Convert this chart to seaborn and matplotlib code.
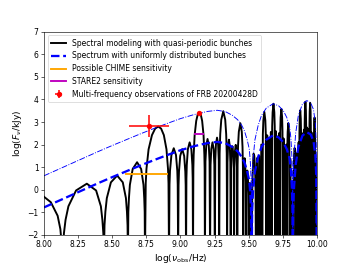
import matplotlib
matplotlib.use("Agg")
import matplotlib.pyplot as plt
import seaborn as sns

# spectral modeling with quasi-periodic bunches (log10 nu, log10 F)
# (-3 marks a spectral zero, which falls below the plotted range)
quasi_logf = [
    8.0, 8.05, 8.1, 8.12, 8.13, 8.1383,
    8.146, 8.158, 8.179, 8.235, 8.314, 8.382, 8.417, 8.428, 8.435, 8.4393,
    8.4436, 8.450, 8.4605, 8.4905, 8.5362, 8.5776, 8.6007, 8.6081, 8.6125, 8.6154,
    8.6183, 8.6226, 8.6296, 8.6502, 8.6824, 8.7123, 8.7294, 8.7349, 8.7382, 8.7404,
    8.7458, 8.7511, 8.7667, 8.7915, 8.8150, 8.8373, 8.8585, 8.8787, 8.8980, 8.9092, 8.9128, 8.9165,
    8.9201, 8.9237, 8.9342, 8.9512, 8.9676, 8.9772, 8.9803, 8.9834,
    8.9865, 8.9896, 8.9986, 9.0134, 9.0276, 9.0360, 9.0387, 9.0414,
    9.0441, 9.0468, 9.0548, 9.0677, 9.0803, 9.0877, 9.0901, 9.0925,
    9.0950, 9.0973, 9.1044, 9.1160, 9.1273, 9.1383, 9.1490, 9.1595, 9.1697, 9.1757, 9.1777, 9.1797,
    9.1836, 9.1895, 9.1990, 9.2083, 9.2138, 9.2175,
    9.2211, 9.2264, 9.2352, 9.2438, 9.2489, 9.2523,
    9.2556, 9.2605, 9.2686, 9.2766, 9.2813, 9.2844,
    9.2875, 9.2921, 9.2996, 9.3144, 9.3286, 9.3356, 9.3397, 9.3424,
    9.3451, 9.3492, 9.3558, 9.3623, 9.3662, 9.3688,
    9.3713, 9.3751, 9.3813, 9.3875, 9.3912, 9.3936,
    9.3960, 9.3996, 9.4055, 9.4113, 9.4148, 9.4170,
    9.4193, 9.4227, 9.4283, 9.4393, 9.4500, 9.4554, 9.4584, 9.4605,
    9.4626, 9.4656, 9.4707, 9.4757, 9.4787, 9.4807,
    9.4827, 9.4856, 9.4905, 9.4953, 9.4982, 9.5000,
    9.5047, 9.5094, 9.5140, 9.5185,
    9.523, 9.527, 9.531, 9.5362, 9.542, 9.548, 9.551, 9.5533,
    9.5616, 9.5697, 9.5777, 9.5855, 9.5932, 9.6007,
    9.6044, 9.6082, 9.6154, 9.6227, 9.6262, 9.6297,
    9.6366, 9.6435, 9.6502, 9.6568, 9.6633, 9.6698,
    9.6729, 9.6761, 9.6824, 9.6886, 9.6916, 9.6946,
    9.7006, 9.7065, 9.7123, 9.7181, 9.7238, 9.7294,
    9.7322, 9.7349, 9.7404, 9.7458, 9.7484, 9.7511,
    9.7564, 9.7616, 9.7667, 9.7718, 9.7768, 9.7818,
    9.7842, 9.7866, 9.7915, 9.7963, 9.7986, 9.8011,
    9.8057, 9.8104, 9.8150, 9.8195, 9.8262, 9.8285,
    9.8308, 9.8329, 9.8373, 9.8416, 9.8437, 9.8459,
    9.8501, 9.8543, 9.8585, 9.8626, 9.8667, 9.8707,
    9.8727, 9.8747, 9.8787, 9.8826, 9.8846, 9.8865,
    9.8904, 9.8942, 9.8980, 9.9017, 9.9055, 9.9092,
    9.9110, 9.9128, 9.9165, 9.9201, 9.9218, 9.9236,
    9.9272, 9.9307, 9.9342, 9.9376, 9.9411, 9.9445,
    9.9462, 9.9479, 9.9512, 9.9545, 9.9561, 9.9578,
    9.9611, 9.9644, 9.9676, 9.9708, 9.9740, 9.9772,
    9.9788, 9.9803, 9.9834, 9.9865, 9.9880, 9.9896,
    9.9926, 9.9956, 9.9978, 10.0,
]
quasi_logF = [
    -0.31, -0.55, -1.15, -1.74, -2.4, -3,
    -1.93, -1.33, -0.73, -0.03, 0.27, -0.03, -0.73, -1.33, -1.93, -3,
    -1.57, -0.97, -0.37, 0.33, 0.63, 0.33, -0.37, -0.97, -1.57, -3,
    -0.98, -0.38, 0.22, 0.92, 1.22, 0.92, 0.22, -0.38, -0.98, -3,
    0.29, 0.92, 1.79, 2.42, 2.71, 2.8, 2.71, 2.42, 1.79, 0.92, 0.29, -3,
    0.24, 0.84, 1.54, 1.84, 1.54, 0.84, 0.24, -3,
    0.2, 0.8, 1.5, 1.8, 1.5, 0.8, 0.2, -3,
    0.5, 1.1, 1.8, 2.1, 1.8, 1.1, 0.5, -3,
    0.92, 1.55, 2.42, 3.05, 3.34, 3.43, 3.34, 3.05, 2.42, 1.55, 0.92, -3,
    1.25, 1.95, 2.25, 1.95, 1.25, -3,
    1.1, 1.8, 2.1, 1.8, 1.1, -3,
    1.31, 2.01, 2.31, 2.01, 1.31, -3,
    1.6, 2.47, 3.1, 3.48, 3.1, 2.47, 1.6, -3,
    1.22, 1.92, 2.22, 1.92, 1.22, -3,
    0.93, 1.63, 1.93, 1.63, 0.93, -3,
    0.99, 1.69, 1.99, 1.69, 0.99, -3,
    1.1, 1.95, 2.57, 2.95, 2.57, 1.9, 1.0, -3,
    0.4, 1.1, 1.4, 1.05, 0.35, -3,
    -0.15, 0.55, 0.85, 0.5, -0.2, -3,
    0.0, 0.3, -0.1, -3,
    -3, 0.0, 0.9, 1.6, 1.5, 0.8, 0.0, -3,
    1.4, -3, 1.5, -3, 2.0, -3,
    2.45, 3.07, 3.45, 3.07, 2.45, -3,
    2.41, -3, 2.3, -3, 2.56, -3,
    2.81, 3.43, 3.81, 3.43, 2.81, -3,
    2.59, -3, 2.36, -3, 2.51, -3,
    2.58, 3.2, 3.58, 3.2, 2.58, -3,
    2.27, -3, 1.95, -3, 2.0, -3,
    1.95, 2.57, 2.95, 2.5, 1.8, -3,
    1.35, -3, 0.3, -3, -0.8, -3,
    0.9, 1.5, 1.85, 1.6, 1.0, -3,
    1.54, -3, 1.65, -3, 2.1, -3,
    2.52, 3.14, 3.52, 3.14, 2.52, -3,
    2.51, -3, 2.4, -3, 2.66, -3,
    2.9, 3.52, 3.9, 3.52, 2.9, -3,
    2.76, -3, 2.55, -3, 2.69, -3,
    2.85, 3.47, 3.85, 3.47, 2.85, -3,
    2.54, -3, 2.25, -3, 2.34, -3,
    2.25, 2.87, 3.2, 2.8, 2.1, -3,
    1.4, -3, 0.1, -3,
]

# spectrum with uniformly distributed bunches, and its coherent upper envelope (dash-dot)
uniform_logf = [
    8.0, 8.1, 8.2, 8.3, 8.4, 8.5, 8.6, 8.7, 8.8, 8.9, 9.0, 9.1, 9.2, 9.27, 9.33,
    9.38, 9.42, 9.45, 9.47, 9.49, 9.505, 9.513, 9.519, 9.523, 9.526, 9.532, 9.546,
    9.57, 9.595, 9.63, 9.68, 9.72, 9.755, 9.78, 9.8, 9.81, 9.818, 9.822, 9.824,
    9.827, 9.833, 9.845, 9.865, 9.895, 9.927, 9.955, 9.976, 9.99, 9.996, 10.0,
]
uniform_logF = [
    -0.78, -0.51, -0.24, 0.03, 0.30, 0.56, 0.81, 1.06, 1.30, 1.53, 1.75, 1.93, 2.07, 2.12, 2.06,
    1.9, 1.7, 1.45, 1.2, 0.8, 0.4, -0.2, -1.0, -3, -0.9, -0.1, 0.8,
    1.45, 1.9, 2.22, 2.41, 2.32, 2.1, 1.8, 1.4, 0.9, 0.0, -1.0, -3,
    -0.8, 0.1, 1.1, 1.9, 2.4, 2.55, 2.45, 2.15, 1.5, 0.6, -3,
]
envelope_logF = [
    0.62, 0.89, 1.16, 1.43, 1.70, 1.96, 2.21, 2.46, 2.70, 2.93, 3.15, 3.33, 3.47, 3.52, 3.46,
    3.3, 3.1, 2.85, 2.6, 2.2, 1.8, 1.2, 0.4, -3, 0.5, 1.3, 2.2,
    2.85, 3.3, 3.62, 3.81, 3.72, 3.5, 3.2, 2.8, 2.3, 1.4, 0.4, -3,
    0.6, 1.5, 2.5, 3.3, 3.8, 3.95, 3.85, 3.55, 2.9, 2.0, -3,
]

# telescope sensitivities
chime_logf = [8.602, 8.903]
chime_logF = [0.7, 0.7]
stare2_logf = [9.107, 9.168]
stare2_logF = [2.48, 2.48]

# FRB 20200428D observations
obs_logf = [8.77, 9.135]
obs_logF = [2.83, 3.42]
obs_xerr = [0.15, 0.0]
obs_yerr = [0.49, 0.0]

fig, ax = plt.subplots(figsize=(6.4, 4.8), dpi=55)

sns.lineplot(x=quasi_logf, y=quasi_logF, sort=False, estimator=None, color="k", lw=2.5,
             label="Spectral modeling with quasi-periodic bunches", ax=ax)
sns.lineplot(x=uniform_logf, y=uniform_logF, sort=False, estimator=None, color="b", lw=3,
             linestyle="--", label="Spectrum with uniformly distributed bunches", ax=ax)
sns.lineplot(x=uniform_logf, y=envelope_logF, sort=False, estimator=None, color="b", lw=1.2,
             linestyle="-.", ax=ax)
sns.lineplot(x=chime_logf, y=chime_logF, sort=False, estimator=None, color="orange", lw=2.5,
             label="Possible CHIME sensitivity", ax=ax)
sns.lineplot(x=stare2_logf, y=stare2_logF, sort=False, estimator=None, color="m", lw=2.5,
             label="STARE2 sensitivity", ax=ax)
ax.errorbar(obs_logf, obs_logF, xerr=obs_xerr, yerr=obs_yerr, fmt="o", color="r",
            ms=6, elinewidth=2, label="Multi-frequency observations of FRB 20200428D", zorder=5)

ax.set_xlim(8, 10)
ax.set_ylim(-2, 7)
ax.set_xticks([8.0, 8.25, 8.5, 8.75, 9.0, 9.25, 9.5, 9.75, 10.0])
ax.set_xticklabels(["8.00", "8.25", "8.50", "8.75", "9.00", "9.25", "9.50", "9.75", "10.00"])
ax.set_yticks(range(-2, 8))
ax.set_xlabel(r"$\log(\nu_{\rm obs}/{\rm Hz})$", fontsize=12)
ax.set_ylabel(r"$\log(F_{\nu}/{\rm kJy})$", fontsize=12)
ax.legend(loc="upper left", fontsize=10)

fig.savefig("out.png", dpi=55)
